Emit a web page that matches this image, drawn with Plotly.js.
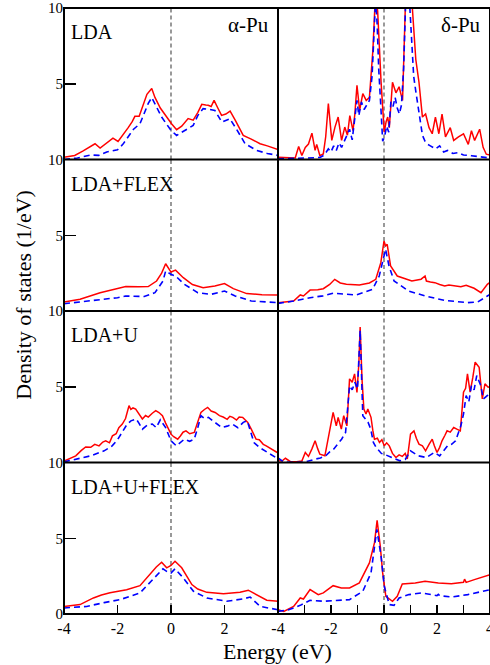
<!DOCTYPE html>
<html>
<head>
<meta charset="utf-8">
<script src="https://cdn.plot.ly/plotly-3.0.1.min.js"></script>
<style>html,body{margin:0;padding:0;background:#fff;}#chart{width:490px;height:665px;}</style>
</head>
<body>
<div id="chart"></div>
<script>
// ---------- Data (Energy in eV, DOS in 1/eV) ----------
// Row 1: LDA
const aLDA_E_tot = [-4,-3.6,-3.3,-3.0,-2.84,-2.65,-2.4,-2.17,-1.98,-1.8,-1.6,-1.45,-1.35,-1.19,-1.05,-0.9,-0.72,-0.6,-0.4,-0.2,0.02,0.21,0.4,0.64,0.83,1.0,1.15,1.3,1.39,1.5,1.61,1.75,1.89,2.05,2.21,2.4,2.7,3.0,3.33,3.6,4.0];
const aLDA_tot   = [0.15,0.27,0.55,0.85,1.04,0.75,1.1,1.41,1.19,1.6,2.1,2.5,2.85,2.85,3.6,4.3,4.68,4.1,3.4,2.9,2.36,1.97,2.2,2.7,2.6,3.1,3.64,3.6,3.58,3.5,3.9,3.4,2.91,3.0,3.2,2.6,1.59,1.35,1.04,0.9,0.66];
const aLDA_E_f   = [-4,-3.5,-3.0,-2.7,-2.4,-2.0,-1.8,-1.6,-1.4,-1.16,-1.0,-0.85,-0.72,-0.55,-0.35,-0.15,0.0,0.21,0.5,0.83,1.0,1.2,1.45,1.64,1.9,2.2,2.45,2.77,3.2,3.6,4.0];
const aLDA_f     = [0.0,0.1,0.3,0.27,0.5,0.64,1.0,1.5,2.0,2.36,3.0,3.7,4.09,3.5,2.8,2.3,1.92,1.59,1.9,2.25,2.9,3.36,3.3,3.24,2.47,2.69,2.0,1.04,0.6,0.4,0.27];

const dLDA_E_tot = [-4,-3.6,-3.35,-3.22,-3.1,-2.97,-2.85,-2.72,-2.6,-2.54,-2.42,-2.29,-2.2,-2.1,-1.97,-1.85,-1.73,-1.6,-1.48,-1.38,-1.29,-1.17,-1.1,-1.02,-0.92,-0.8,-0.67,-0.55,-0.42,-0.32,-0.24,-0.11,0.01,0.08,0.14,0.2,0.32,0.45,0.57,0.7,0.82,0.95,1.07,1.2,1.32,1.45,1.57,1.7,1.82,1.94,2.07,2.19,2.32,2.5,2.63,2.81,3.0,3.18,3.3,3.42,3.61,3.74,3.86,4.0];
const dLDA_tot   = [0.15,0.1,0.1,0.86,0.26,0.8,1.02,1.74,0.6,1.0,0.26,0.37,1.5,3.69,1.26,2.14,2.8,1.26,2.14,1.6,2.9,1.9,3.0,4.9,3.25,4.35,3.9,4.1,7.2,11.0,9.8,5.1,1.8,2.5,2.8,2.1,5.1,4.4,4.8,3.9,11.0,11.0,10.0,6.6,5.1,2.8,3.0,2.1,1.7,2.8,1.7,3.0,1.5,2.1,1.26,1.5,1.7,1.0,1.9,1.26,2.0,0.8,0.35,0.3];
const dLDA_E_f   = [-4,-3.6,-3.2,-2.9,-2.6,-2.4,-2.25,-2.1,-2.0,-1.9,-1.8,-1.7,-1.6,-1.5,-1.4,-1.3,-1.2,-1.1,-1.02,-0.95,-0.85,-0.75,-0.65,-0.55,-0.45,-0.38,-0.32,-0.26,-0.2,-0.12,-0.05,0.02,0.1,0.18,0.26,0.34,0.42,0.5,0.58,0.66,0.74,0.82,0.9,0.97,1.04,1.12,1.2,1.28,1.36,1.45,1.55,1.65,1.75,1.85,1.95,2.1,2.25,2.4,2.6,2.8,3.0,3.3,3.6,4.0];
const dLDA_f     = [0.05,0.05,0.08,0.1,0.12,0.15,0.3,0.7,0.5,0.9,0.6,1.1,0.8,1.2,1.5,2.0,1.3,2.6,3.9,2.9,3.8,3.3,3.6,3.9,5.5,8.5,10.5,9.0,6.0,3.5,1.2,1.5,2.2,1.8,3.8,3.5,4.1,3.4,3.0,3.6,6.0,10.5,10.5,10.2,8.0,5.5,4.5,3.5,2.5,1.6,1.2,1.0,0.9,0.8,0.7,0.9,0.5,0.6,0.4,0.45,0.3,0.25,0.2,0.1];

// Row 2: LDA+FLEX
const aFLEX_E_tot = [-4,-3.4,-2.65,-2.2,-1.69,-1.2,-0.85,-0.54,-0.35,-0.2,-0.1,0.0,0.17,0.3,0.46,0.8,1.2,1.64,2.0,2.33,2.83,3.4,4.0];
const aFLEX_tot   = [0.6,0.77,1.21,1.42,1.61,1.6,1.61,1.98,2.5,3.12,2.8,2.57,2.7,2.5,2.2,1.75,1.54,1.65,1.81,1.48,1.15,1.08,1.06];
const aFLEX_E_f   = [-4,-3.0,-2.0,-1.7,-1.0,-0.6,-0.3,-0.2,-0.1,0.0,0.17,0.5,1.0,1.5,2.0,2.4,3.0,4.0];
const aFLEX_f     = [0.48,0.66,0.88,0.99,0.96,1.21,1.98,2.64,2.5,2.42,2.31,1.76,1.21,1.1,1.32,0.99,0.66,0.55];

const dFLEX_E_tot = [-4,-3.41,-3.16,-3.04,-2.79,-2.5,-2.29,-2.05,-1.86,-1.65,-1.42,-0.93,-0.55,-0.31,-0.12,-0.04,0.0,0.06,0.12,0.25,0.5,1.05,1.4,1.55,1.6,1.75,1.92,2.1,2.29,2.45,2.66,2.9,3.1,3.4,3.66,3.9,4.0];
const dFLEX_tot   = [0.55,0.66,1.06,0.99,1.38,1.4,1.47,1.75,2.09,1.85,1.76,1.72,1.85,2.09,3.19,4.3,4.62,4.3,4.4,2.97,2.31,1.98,2.1,2.31,1.98,1.92,1.87,1.75,1.65,1.72,1.65,1.6,1.7,1.5,1.21,1.76,1.9];
const dFLEX_E_f   = [-4,-3.4,-2.79,-2.3,-1.92,-1.05,-0.43,-0.18,0.06,0.19,0.38,0.93,1.55,2.29,3.16,3.54,3.9,4.0];
const dFLEX_f     = [0.5,0.66,0.88,1.0,1.17,1.06,1.43,2.31,4.07,2.97,1.98,1.32,0.99,0.7,0.55,0.6,0.99,1.1];

// Row 3: LDA+U
const aU_E_tot = [-4,-3.8,-3.56,-3.35,-3.19,-3.0,-2.85,-2.69,-2.55,-2.44,-2.3,-2.19,-2.05,-1.95,-1.82,-1.7,-1.57,-1.5,-1.42,-1.32,-1.2,-1.07,-0.95,-0.85,-0.7,-0.57,-0.45,-0.32,-0.2,-0.1,0.0,0.1,0.25,0.35,0.45,0.56,0.7,0.87,1.0,1.12,1.25,1.37,1.5,1.65,1.81,1.95,2.1,2.2,2.31,2.45,2.55,2.68,2.78,2.87,3.0,3.18,3.3,3.45,3.56,3.7,3.85,3.97];
const aU_tot   = [0.1,0.25,0.44,0.8,1.03,1.0,1.2,1.1,1.35,1.43,1.3,1.76,1.9,2.3,2.54,2.9,3.75,3.5,3.6,3.53,3.2,2.87,3.1,3.0,3.25,3.42,3.3,3.09,2.6,2.2,1.87,1.7,1.54,1.75,2.0,2.09,1.9,1.98,2.6,3.31,3.5,3.64,3.4,3.3,3.09,3.0,2.85,3.05,2.98,2.8,3.0,2.98,2.8,2.65,2.2,1.54,1.5,1.2,1.1,0.95,0.8,0.66];
const aU_E_f   = [-4,-3.5,-3.0,-2.5,-2.2,-2.0,-1.8,-1.65,-1.5,-1.3,-1.2,-1.07,-0.9,-0.7,-0.55,-0.4,-0.2,0.0,0.2,0.35,0.5,0.7,0.87,1.0,1.12,1.25,1.4,1.6,1.9,2.1,2.3,2.5,2.7,2.85,3.1,3.3,3.5,3.8,4.0];
const aU_f     = [0.04,0.22,0.44,0.77,1.1,1.5,2.09,2.5,2.75,2.87,2.6,2.2,2.45,2.54,2.3,2.82,2.3,1.43,1.1,1.3,1.54,1.4,1.54,2.3,3.09,2.9,2.98,2.7,2.31,2.4,2.53,2.3,2.65,2.75,1.32,1.0,0.77,0.45,0.24];

const dU_E_tot = [-4,-3.85,-3.72,-3.53,-3.3,-3.1,-2.97,-2.85,-2.72,-2.6,-2.5,-2.42,-2.23,-2.07,-1.92,-1.8,-1.73,-1.61,-1.52,-1.4,-1.3,-1.2,-1.11,-1.02,-0.95,-0.9,-0.83,-0.76,-0.68,-0.61,-0.49,-0.42,-0.36,-0.25,-0.17,-0.08,0.01,0.1,0.2,0.32,0.45,0.57,0.69,0.8,0.88,1.0,1.13,1.22,1.32,1.45,1.57,1.7,1.82,1.9,2.0,2.1,2.19,2.3,2.38,2.5,2.63,2.75,2.88,3.0,3.08,3.15,3.25,3.35,3.44,3.59,3.71,3.81,3.93,4.0];
const dU_tot   = [0.12,0.1,0.28,0.05,0.05,0.1,0.66,0.4,0.9,1.43,0.9,0.55,0.44,1.98,3.31,2.42,2.98,2.2,3.09,2.42,5.52,5.3,5.85,4.63,6.5,8.94,5.5,3.53,3.2,3.53,2.98,2.1,1.54,1.6,1.32,1.5,1.1,1.3,1.1,0.6,0.33,0.5,0.4,0.6,0.24,1.87,2.09,1.6,1.21,1.1,0.77,1.2,1.54,1.1,0.66,1.0,1.43,1.8,2.09,2.0,2.31,2.2,2.09,4.64,4.9,5.85,4.64,5.6,6.62,6.29,4.2,5.19,4.97,5.0];
const dU_E_f   = [-4,-3.8,-3.6,-3.0,-2.6,-2.4,-2.2,-2.05,-1.9,-1.75,-1.6,-1.45,-1.3,-1.2,-1.1,-1.0,-0.9,-0.8,-0.7,-0.6,-0.5,-0.4,-0.3,-0.2,-0.1,0.0,0.15,0.3,0.45,0.6,0.8,1.0,1.15,1.3,1.6,1.9,2.1,2.25,2.4,2.55,2.7,2.9,3.0,3.1,3.2,3.3,3.4,3.5,3.65,3.75,3.9,4.0];
const dU_f     = [0.3,0.05,0.02,0.02,0.22,0.3,0.44,0.7,0.88,1.2,1.54,1.98,5.06,4.8,5.3,4.85,8.72,3.09,2.9,2.65,2.2,1.32,1.0,0.77,0.6,0.55,0.45,0.33,0.25,0.11,0.2,0.77,0.6,0.44,0.33,0.66,0.44,0.8,1.1,1.2,1.43,2.42,3.2,4.42,4.0,5.08,4.8,5.74,5.08,4.2,4.42,4.5];

// Row 4: LDA+U+FLEX
const aUF_E_tot = [-4,-3.7,-3.4,-2.9,-2.6,-2.28,-1.66,-1.16,-0.79,-0.55,-0.35,-0.16,0.0,0.15,0.4,0.78,1.0,1.34,1.96,2.58,2.89,3.2,3.58,4.0];
const aUF_tot   = [0.5,0.55,0.62,1.06,1.25,1.4,1.6,1.87,2.6,3.1,3.42,3.05,3.2,3.48,3.05,1.94,1.65,1.43,1.34,1.43,1.57,1.28,0.91,0.84];
const aUF_E_f   = [-4,-3.15,-2.5,-1.9,-1.16,-0.67,-0.3,-0.15,0.0,0.15,0.46,0.84,1.34,2.08,2.71,2.96,3.33,4.0];
const aUF_f     = [0.4,0.5,0.75,0.95,1.39,2.27,2.98,2.8,2.7,2.98,2.38,1.5,1.06,0.84,1.0,1.12,0.5,0.28];

const dUF_E_tot = [-4,-3.78,-3.41,-3.16,-3.04,-2.79,-2.48,-2.29,-1.92,-1.61,-1.3,-0.93,-0.55,-0.36,-0.26,-0.14,-0.05,0.07,0.32,0.5,0.69,1.18,1.55,2.05,2.54,3.0,3.04,3.1,3.41,3.91,4.0];
const dUF_tot   = [0.28,0.17,0.5,1.06,0.99,1.61,1.28,1.39,1.87,1.72,1.72,2.05,3.37,4.69,6.18,4.47,2.71,1.17,0.84,1.17,1.98,2.05,2.16,2.05,2.0,2.09,2.3,2.09,2.27,2.53,2.6];
const dUF_E_f   = [-4,-3.6,-3.16,-2.79,-2.29,-1.8,-1.3,-0.8,-0.49,-0.27,-0.11,0.01,0.2,0.38,0.57,0.94,1.43,2.0,2.05,2.1,2.54,3.16,3.91,4.0];
const dUF_f     = [0.17,0.28,0.57,0.9,0.84,0.9,0.95,1.5,2.71,5.58,3.81,1.83,0.62,0.57,1.06,1.28,1.39,1.21,1.3,1.21,1.12,1.28,1.54,1.6];

const panelLabels = ['LDA','LDA+FLEX','LDA+U','LDA+U+FLEX'];
const phaseLabels = ['α-Pu','δ-Pu'];
const xTickValsLeft  = [-4,-2,0,2];
const xTickTextLeft  = ['-4','-2','0','2'];
const xTickValsRight = [-4,-3,-2,-1,0,1,2,3,4];
const xTickTextRight = ['-4','','-2','','0','','2','','4'];

// ---------- Build ----------
const panels = [
  [aLDA_E_tot,aLDA_tot,aLDA_E_f,aLDA_f],
  [dLDA_E_tot,dLDA_tot,dLDA_E_f,dLDA_f],
  [aFLEX_E_tot,aFLEX_tot,aFLEX_E_f,aFLEX_f],
  [dFLEX_E_tot,dFLEX_tot,dFLEX_E_f,dFLEX_f],
  [aU_E_tot,aU_tot,aU_E_f,aU_f],
  [dU_E_tot,dU_tot,dU_E_f,dU_f],
  [aUF_E_tot,aUF_tot,aUF_E_f,aUF_f],
  [dUF_E_tot,dUF_tot,dUF_E_f,dUF_f]
];

const FONT = '"Liberation Serif", "Times New Roman", Times, serif';
const colSplit = 214/426;
const traces = [];
const layout = {
  width: 490, height: 665,
  margin: {l: 64, r: 0, t: 8, b: 51},
  paper_bgcolor: '#fff', plot_bgcolor: '#fff',
  showlegend: false,
  font: {family: FONT, size: 15, color: '#000'},
  shapes: [], annotations: []
};

panels.forEach((p, i) => {
  const n = i + 1;
  const row = Math.floor(i / 2), col = i % 2;
  const xa = 'x' + (n === 1 ? '' : n), ya = 'y' + (n === 1 ? '' : n);
  traces.push({x: p[0], y: p[1], xaxis: xa, yaxis: ya, mode: 'lines', type: 'scatter',
    line: {color: '#ff0000', width: 1.5}, hoverinfo: 'skip'});
  traces.push({x: p[2], y: p[3], xaxis: xa, yaxis: ya, mode: 'lines', type: 'scatter',
    line: {color: '#0000ff', width: 1.6, dash: '6px,4px'}, hoverinfo: 'skip'});
  const bottom = row === 3;
  layout['xaxis' + (n === 1 ? '' : n)] = {
    domain: col === 0 ? [0, colSplit] : [colSplit, 1],
    anchor: ya, range: [-4, 4], showgrid: false, zeroline: false, showline: false,
    ticks: bottom ? 'inside' : '', ticklen: 9, tickwidth: 1.5, tickcolor: '#000',
    tickvals: bottom ? (col === 0 ? xTickValsLeft : xTickValsRight) : [],
    ticktext: bottom ? (col === 0 ? xTickTextLeft : xTickTextRight) : [],
    showticklabels: bottom, ticklabeloverflow: 'allow', ticklabelstandoff: 3,
    tickfont: {family: FONT, size: 16, color: '#000'}
  };
  const yDom = [(3 - row) * 0.25, (4 - row) * 0.25];
  layout['yaxis' + (n === 1 ? '' : n)] = {
    domain: yDom, anchor: xa, range: [0, 10], showgrid: false, zeroline: false, showline: false,
    ticks: col === 0 ? 'inside' : '', ticklen: 12, tickwidth: 1.5, tickcolor: '#000',
    tickvals: col === 0 ? (row === 3 ? [0,5,10] : [5,10]) : [],
    ticktext: col === 0 ? (row === 3 ? ['0','5','10'] : ['5','10']) : [],
    showticklabels: col === 0, ticklabeloverflow: 'allow',
    tickfont: {family: FONT, size: 15, color: '#000'}
  };
  // Fermi level dashed line
  layout.shapes.push({type: 'line', xref: xa, yref: ya + ' domain', x0: 0, x1: 0, y0: 0, y1: 1,
    line: {color: '#555', width: 1.2, dash: '4px,3px'}, layer: 'below'});
  if (col === 0) {
    layout.annotations.push({text: panelLabels[row], xref: xa + ' domain', yref: ya + ' domain',
      x: 0.025, y: 0.84, xanchor: 'left', yanchor: 'middle', showarrow: false,
      font: {family: FONT, size: 20, color: '#000'}});
  }
  if (row === 0) {
    layout.annotations.push({text: phaseLabels[col], xref: xa + ' domain', yref: ya + ' domain',
      x: 0.965, y: 0.885, xanchor: 'right', yanchor: 'middle', showarrow: false,
      font: {family: FONT, size: 21, color: '#000'}});
  }
});

// panel frames (2px, drawn once so shared edges are not doubled)
layout.shapes.push({type: 'rect', xref: 'paper', yref: 'paper', x0: 0, x1: 1, y0: 0, y1: 1,
  line: {color: '#000', width: 2}, layer: 'above'});
[0.25, 0.5, 0.75].forEach(v => layout.shapes.push({type: 'line', xref: 'paper', yref: 'paper',
  x0: 0, x1: 1, y0: v, y1: v, line: {color: '#000', width: 2}, layer: 'above'}));
layout.shapes.push({type: 'line', xref: 'paper', yref: 'paper', x0: colSplit, x1: colSplit, y0: 0, y1: 1,
  line: {color: '#000', width: 2}, layer: 'above'});

layout.annotations.push({text: 'Energy (eV)', xref: 'paper', yref: 'paper', x: 0.5, y: -37/606,
  xanchor: 'center', yanchor: 'middle', showarrow: false, borderpad: 0,
  font: {family: FONT, size: 22, color: '#000'}});
layout.annotations.push({text: 'Density of states (1/eV)', xref: 'paper', yref: 'paper',
  x: -40/426, y: 0.527, xanchor: 'center', yanchor: 'middle', textangle: -90, showarrow: false,
  font: {family: FONT, size: 22, color: '#000'}});

Plotly.newPlot('chart', traces, layout, {staticPlot: true, displayModeBar: false});
</script>
</body>
</html>
